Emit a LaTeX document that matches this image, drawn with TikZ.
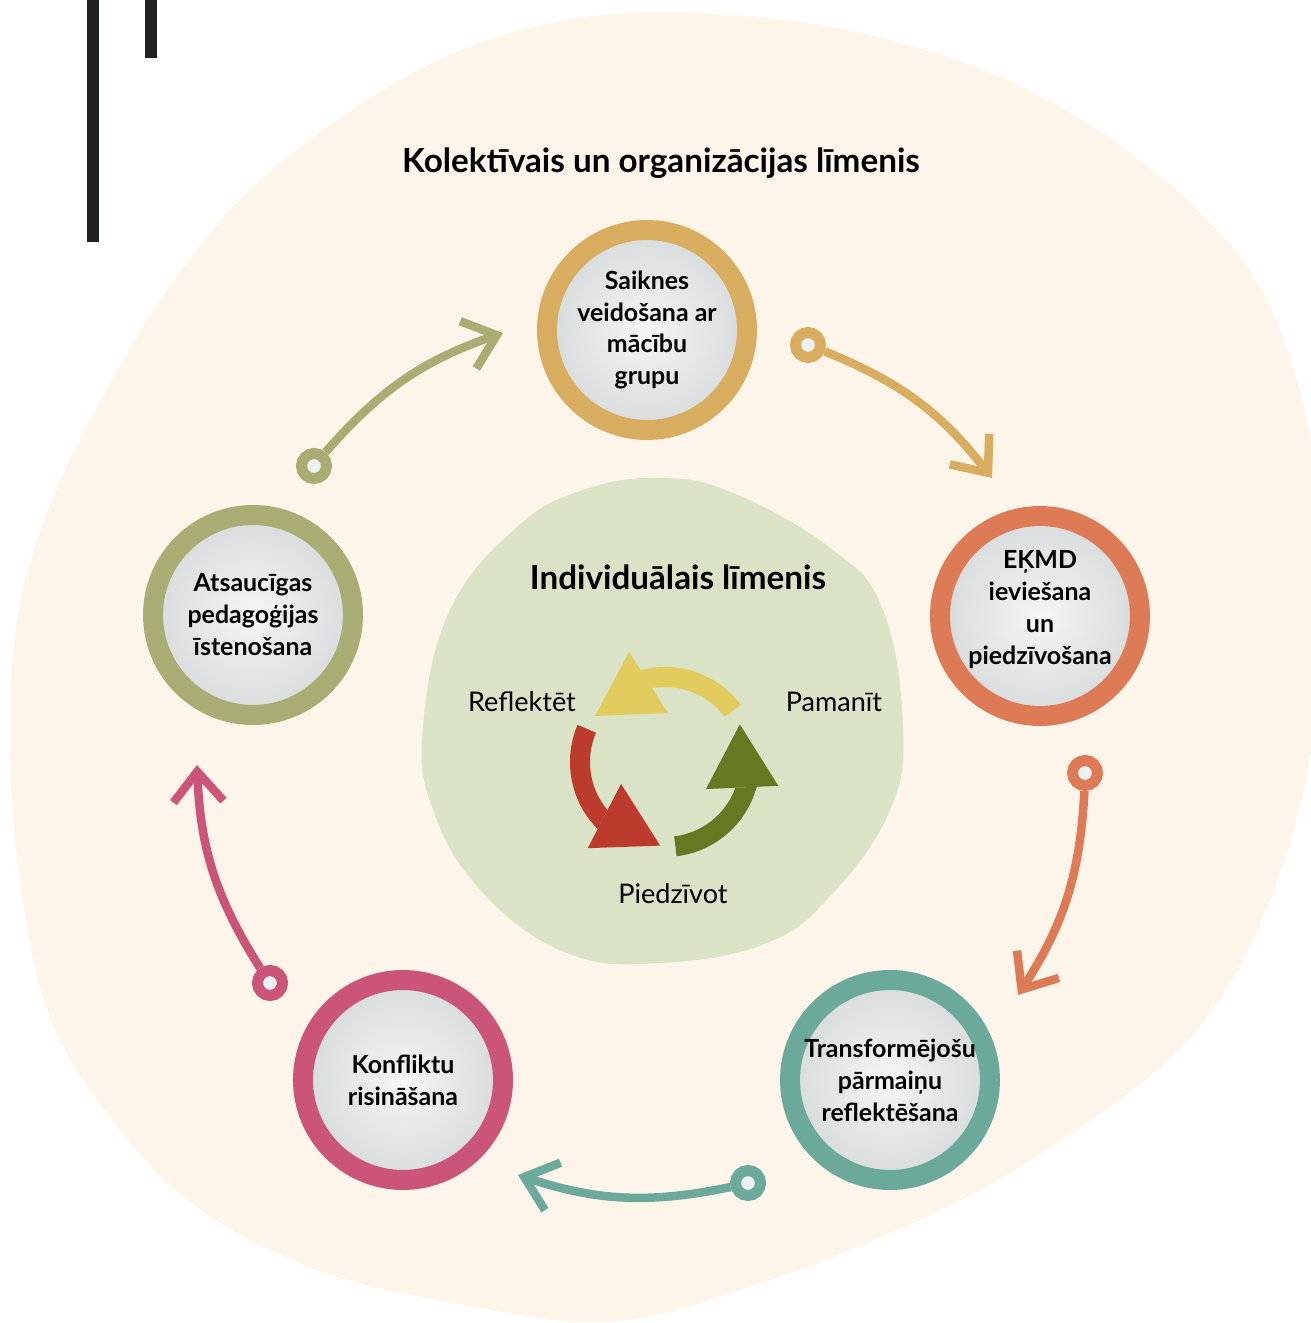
\documentclass[tikz,border=0pt]{standalone}
\usepackage{fontspec}
\setmainfont{Lato}
\usepackage{xcolor}
\usetikzlibrary{arrows.meta}

\definecolor{bgcream}{HTML}{FDF4EA}
\definecolor{blobgreen}{HTML}{DBE3C6}
\definecolor{barblack}{HTML}{1E2220}
\definecolor{cyyellow}{HTML}{E0CB5C}
\definecolor{cygreen}{HTML}{667822}
\definecolor{cyred}{HTML}{BC3B2C}
\definecolor{ringgold}{HTML}{D8AD5F}
\definecolor{ringorange}{HTML}{DE7B57}
\definecolor{ringteal}{HTML}{6BA99A}
\definecolor{ringpink}{HTML}{CB5579}
\definecolor{ringolive}{HTML}{A9AD74}
\definecolor{innerlight}{HTML}{F5F6F6}
\definecolor{innerdark}{HTML}{D8DBDB}
\definecolor{dothole}{HTML}{EEF1F4}

\begin{document}
\begin{tikzpicture}[x=0.02cm, y=0.02cm,
    ring/.style={circle, minimum size=4cm, line width=0.4cm, inner sep=0pt, align=center,
      inner color=innerlight, outer color=innerdark,
      font=\bfseries\fontsize{14.2}{18.2}\selectfont},
    dot/.style={circle, minimum size=0.5cm, line width=0.22cm, fill=dothole, inner sep=0pt},
    conn/.style={line width=0.17cm, -{Straight Barb[length=0.6cm, width=1.0cm]}},
    lbl/.style={font=\fontsize{15.4}{18}\selectfont, anchor=base},
    ttl/.style={font=\bfseries\fontsize{18.9}{22}\selectfont, anchor=base}]

  \useasboundingbox (0,0) rectangle (1311,1323);

  % background blobs
  \begin{scope}
    \clip (0,0) rectangle (1311,1323);
    \fill[bgcream] plot[smooth cycle, tension=0.55] coordinates {
      (650,1311) (800,1301) (900,1280) (1000,1246) (1100,1192) (1190,1120)
      (1255,1045) (1295,950) (1314,853) (1320,703) (1306,543) (1254,385)
      (1171,265) (1003,146) (836,67) (669,11) (585,1) (502,11) (334,47)
      (209,107) (125,186) (50,305) (17,464) (10,623) (25,743) (70,863)
      (160,1023) (260,1143) (400,1243) (520,1293)};
  \end{scope}
  \fill[blobgreen] plot[smooth cycle, tension=0.7] coordinates {
    (660,845) (733,830) (833,773) (883,713) (903,596) (890,513) (833,430)
    (767,380) (660,360) (567,370) (483,430) (433,513) (423,596) (450,713)
    (517,796) (583,833)};

  % bars
  \fill[barblack] (87,1081) rectangle (99,1323);
  \fill[barblack] (145,1265) rectangle (157,1323);

  % titles
  \node[ttl] (tcol) at (661,1150) {Kolektīvais un organizācijas līmenis};
  \node[ttl] (tind) at (678,733) {Individuālais līmenis};

  % inner cycle
  \foreach \ang/\col in {0/cyyellow, -120/cygreen, 120/cyred}{
    \begin{scope}[shift={(665,561)}, rotate=\ang]
      \fill[\col] (37:95) arc[start angle=37, end angle=104.9, radius=95]
        -- (99.9:75) arc[start angle=99.9, end angle=37, radius=75] -- cycle;
      \fill[\col] (-36,110) -- (3,49) -- (-70,46) -- cycle;
    \end{scope}
  }
  \node[lbl] (lref) at (522,611) {Reflektēt};
  \node[lbl] (lpam) at (834,611) {Pamanīt};
  \node[lbl] (lpie) at (673,419) {Piedzīvot};

  % outer circles
  \node[ring, draw=ringgold] (saik) at (647,993) {Saiknes\\veidošana ar\\mācību\\grupu};
  \node[ring, draw=ringorange] (ekmd) at (1040,707) {EĶMD\\ieviešana\\un\\piedzīvošana\\[-14pt]\strut};
  \node[ring, draw=ringteal] (trans) at (890,243) {Transformējošu\\pārmaiņu\\reflektēšana};
  \node[ring, draw=ringpink] (konf) at (403,243) {Konfliktu\\risināšana};
  \node[ring, draw=ringolive] (atsa) at (253,708) {Atsaucīgas\\pedagoģijas\\īstenošana};

  % connectors
  \node[dot, draw=ringolive] (d1) at (314,857) {};
  \node[dot, draw=ringgold] (d2) at (808,978) {};
  \node[dot, draw=ringorange] (d3) at (1085,550) {};
  \node[dot, draw=ringteal] (d4) at (748,140) {};
  \node[dot, draw=ringpink] (d5) at (270,340) {};
  \coordinate (t1) at (503,990);
  \coordinate (t2) at (992,845);
  \coordinate (t3) at (1018,328);
  \coordinate (t4) at (518,148);
  \coordinate (t5) at (197,558);
  \draw[conn, draw=ringolive] (d1) to[bend left=15] (t1);
  \draw[conn, draw=ringgold] (d2) to[bend left=15] (t2);
  \draw[conn, draw=ringorange] (d3) to[bend left=15] (t3);
  \draw[conn, draw=ringteal] (d4) to[bend left=15] (t4);
  \draw[conn, draw=ringpink] (d5) to[bend left=15] (t5);
\end{tikzpicture}
\end{document}
